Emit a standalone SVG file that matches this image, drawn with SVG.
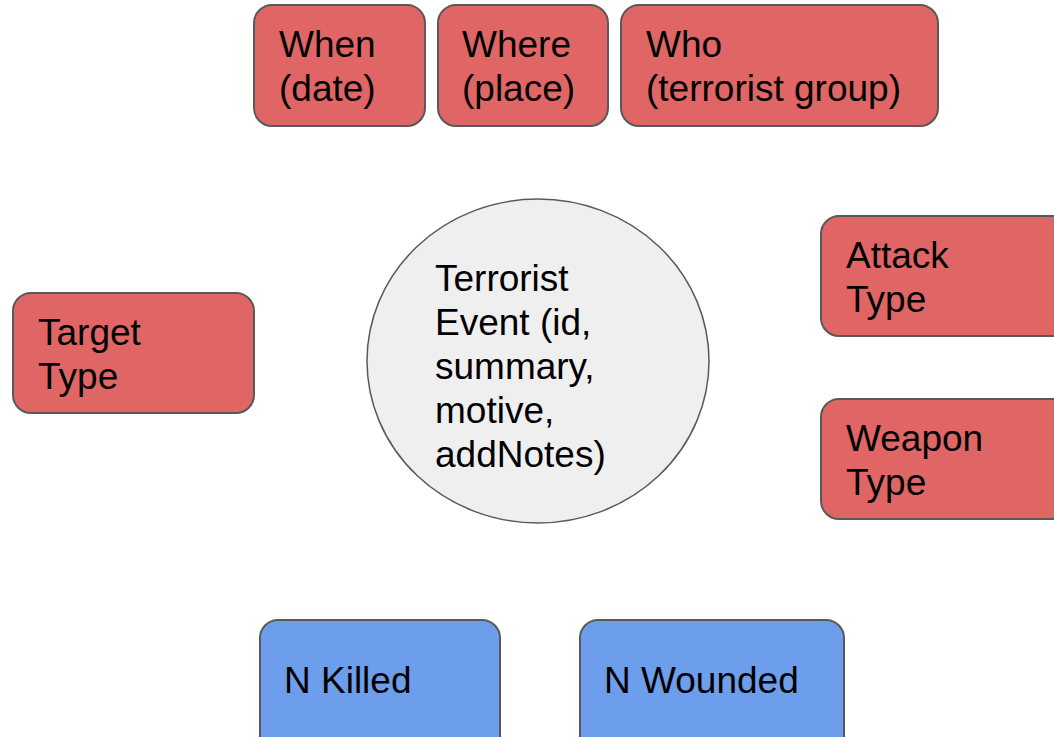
<svg xmlns="http://www.w3.org/2000/svg" width="1054" height="737" viewBox="0 0 1054 737">
<style>
.red{fill:#e06666;stroke:#595959;stroke-width:2}
.blue{fill:#6d9eeb;stroke:#595959;stroke-width:2}
.ell{fill:#efefef;stroke:#595959;stroke-width:1.5}
text{font-family:"Liberation Sans",Arial,sans-serif;font-size:37px;fill:#000}
</style>
<rect width="1054" height="737" fill="#fff"/>
<g id="connectors"></g>
<g id="when"><rect class="red" x="254" y="5" width="171" height="121" rx="18"/><text><tspan x="279" y="57">When</tspan><tspan x="279" y="101">(date)</tspan></text></g>
<g id="where"><rect class="red" x="438" y="5" width="170" height="121" rx="18"/><text><tspan x="462" y="57">Where</tspan><tspan x="462" y="101">(place)</tspan></text></g>
<g id="who"><rect class="red" x="621" y="5" width="317" height="121" rx="18"/><text><tspan x="646" y="57">Who</tspan><tspan x="646" y="101">(terrorist group)</tspan></text></g>
<g id="event"><ellipse class="ell" cx="538" cy="361" rx="171" ry="162"/><text><tspan x="435" y="291">Terrorist</tspan><tspan x="435" y="335">Event (id,</tspan><tspan x="435" y="379">summary,</tspan><tspan x="435" y="423">motive,</tspan><tspan x="435" y="467">addNotes)</tspan></text></g>
<g id="target"><rect class="red" x="13" y="293" width="241" height="120" rx="18"/><text><tspan x="38" y="345">Target</tspan><tspan x="38" y="389">Type</tspan></text></g>
<g id="attack"><rect class="red" x="821" y="216" width="250" height="120" rx="18"/><text><tspan x="846" y="268">Attack</tspan><tspan x="846" y="312">Type</tspan></text></g>
<g id="weapon"><rect class="red" x="821" y="399" width="250" height="120" rx="18"/><text><tspan x="846" y="451">Weapon</tspan><tspan x="846" y="495">Type</tspan></text></g>
<g id="killed"><rect class="blue" x="260" y="620" width="240" height="140" rx="18"/><text x="284" y="693">N Killed</text></g>
<g id="wounded"><rect class="blue" x="580" y="620" width="264" height="140" rx="18"/><text x="604" y="693">N Wounded</text></g>
</svg>
